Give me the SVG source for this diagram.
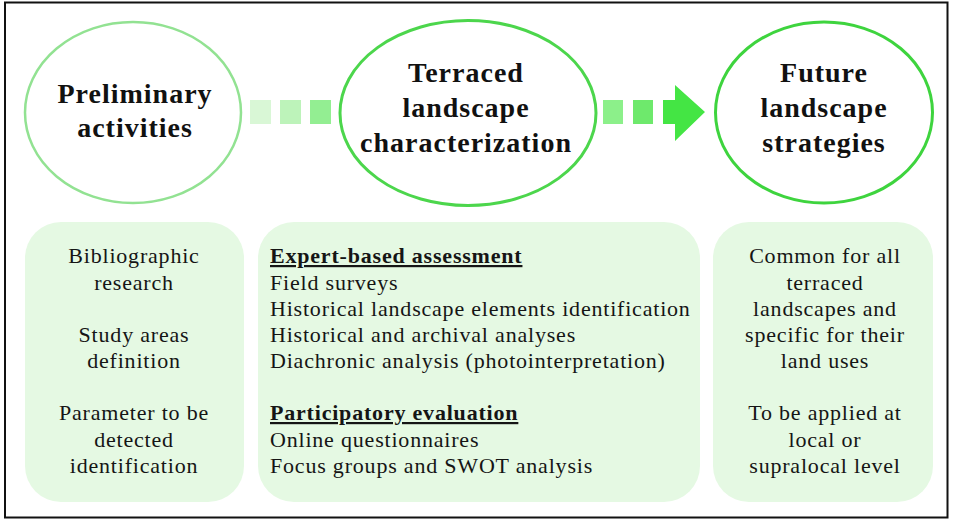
<svg xmlns="http://www.w3.org/2000/svg" width="953" height="520" viewBox="0 0 953 520">
  <style>
    .title { font-family: "Liberation Serif", "Times New Roman", serif; font-weight: bold; font-size: 28px; letter-spacing: 1px; fill: #111; text-anchor: middle; }
    .body { font-family: "Liberation Serif", "Times New Roman", serif; font-size: 22px; letter-spacing: 0.8px; fill: #151515; }
    .center { text-anchor: middle; }
    .head { font-weight: bold; }
    .panel { fill: #e5f9e3; stroke: none; }
  </style>
  <rect x="0" y="0" width="953" height="520" fill="#fff"/>
  <!-- outer frame -->
  <rect x="5" y="2.5" width="942.5" height="515" fill="none" stroke="#111" stroke-width="2"/>

  <!-- stage ellipses -->
  <g id="node-preliminary">
    <ellipse cx="133" cy="112.5" rx="108" ry="90.5" fill="#fff" stroke="#92e292" stroke-width="2.5"/>
    <text class="title" x="135" y="103">Preliminary</text>
    <text class="title" x="135" y="137">activities</text>
  </g>
  <g id="node-characterization">
    <ellipse cx="468" cy="113" rx="128" ry="92.5" fill="#fff" stroke="#4cd64c" stroke-width="3"/>
    <text class="title" x="466" y="82">Terraced</text>
    <text class="title" x="466" y="117">landscape</text>
    <text class="title" x="466" y="152">characterization</text>
  </g>
  <g id="node-strategies">
    <ellipse cx="824" cy="112.5" rx="108.5" ry="90.5" fill="#fff" stroke="#3ed43e" stroke-width="3"/>
    <text class="title" x="824" y="82">Future</text>
    <text class="title" x="824" y="117">landscape</text>
    <text class="title" x="824" y="152">strategies</text>
  </g>

  <!-- dotted arrows between stages -->
  <g id="connectors">
    <rect x="250" y="100" width="21" height="24" fill="#d9f7d6"/>
    <rect x="280" y="100" width="21" height="24" fill="#bdf3ba"/>
    <rect x="310" y="100" width="21" height="24" fill="#93ee92"/>
    <rect x="603" y="100" width="20" height="24" fill="#8cf08a"/>
    <rect x="633" y="100" width="20" height="24" fill="#6ee96c"/>
    <path d="M663,100 H675 V85 L705,112 L675,141 V124 H663 Z" fill="#44e544"/>
  </g>

  <!-- detail panels -->
  <g id="panel-preliminary">
    <rect class="panel" x="25" y="222" width="219" height="280" rx="36"/>
    <text class="body center" x="134" y="263">Bibliographic</text>
    <text class="body center" x="134" y="290">research</text>
    <text class="body center" x="134" y="342">Study areas</text>
    <text class="body center" x="134" y="368">definition</text>
    <text class="body center" x="134" y="420">Parameter to be</text>
    <text class="body center" x="134" y="447">detected</text>
    <text class="body center" x="134" y="473">identification</text>
  </g>
  <g id="panel-characterization">
    <rect class="panel" x="258" y="222" width="442" height="280" rx="36"/>
    <text class="body head" x="270" y="263" text-decoration="underline">Expert-based assessment</text>
    <text class="body" x="270" y="290">Field surveys</text>
    <text class="body" x="270" y="316">Historical landscape elements identification</text>
    <text class="body" x="270" y="342">Historical and archival analyses</text>
    <text class="body" x="270" y="368">Diachronic analysis (photointerpretation)</text>
    <text class="body head" x="270" y="420" text-decoration="underline">Participatory evaluation</text>
    <text class="body" x="270" y="447">Online questionnaires</text>
    <text class="body" x="270" y="473">Focus groups and SWOT analysis</text>
  </g>
  <g id="panel-strategies">
    <rect class="panel" x="713" y="222" width="220" height="280" rx="36"/>
    <text class="body center" x="825" y="263">Common for all</text>
    <text class="body center" x="825" y="290">terraced</text>
    <text class="body center" x="825" y="316">landscapes and</text>
    <text class="body center" x="825" y="342">specific for their</text>
    <text class="body center" x="825" y="368">land uses</text>
    <text class="body center" x="825" y="420">To be applied at</text>
    <text class="body center" x="825" y="447">local or</text>
    <text class="body center" x="825" y="473">supralocal level</text>
  </g>
</svg>
